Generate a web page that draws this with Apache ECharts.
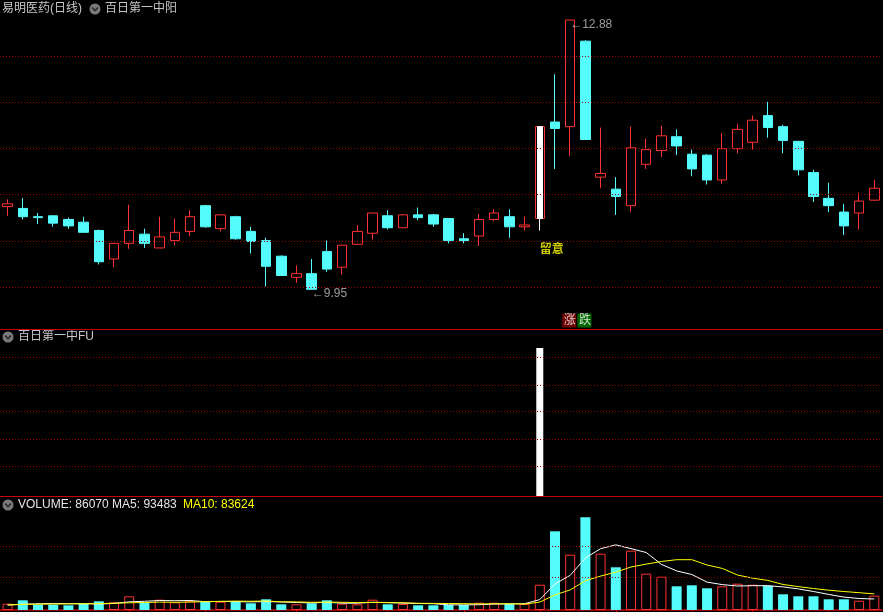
<!DOCTYPE html>
<html><head><meta charset="utf-8">
<script src="https://cdn.jsdelivr.net/npm/echarts@6/dist/echarts.min.js"></script>
<style>html,body{margin:0;padding:0;background:#000;}#c{width:883px;height:612px;}</style>
</head><body><div id="c"></div>
<script>
// ---- data ----
const categories = ['1','2','3','4','5','6','7','8','9','10','11','12','13','14','15','16','17','18','19','20',
 '21','22','23','24','25','26','27','28','29','30','31','32','33','34','35','36','37','38','39','40',
 '41','42','43','44','45','46','47','48','49','50','51','52','53','54','55','56','57','58'];
const opens  = [10.85,10.83,10.74,10.75,10.71,10.68,10.59,10.28,10.45,10.55,10.40,10.48,10.58,10.86,10.61,10.74,10.58,10.48,10.31,10.08,
 10.12,10.36,10.19,10.44,10.56,10.75,10.62,10.76,10.76,10.72,10.50,10.53,10.71,10.74,10.63,10.72,11.77,11.72,12.65,11.17,
 11.04,10.86,11.31,11.46,11.61,11.42,11.41,11.14,11.48,11.55,11.84,11.72,11.56,11.22,10.94,10.79,10.78,10.92];
const closes = [10.88,10.74,10.73,10.67,10.64,10.57,10.25,10.45,10.59,10.45,10.52,10.57,10.74,10.63,10.76,10.50,10.47,10.20,10.10,10.12,
 9.95,10.17,10.43,10.58,10.78,10.62,10.76,10.73,10.66,10.48,10.48,10.71,10.78,10.63,10.65,11.72,11.70,12.88,11.58,11.21,
 10.96,11.49,11.47,11.62,11.51,11.26,11.14,11.48,11.69,11.79,11.71,11.57,11.25,10.96,10.86,10.64,10.91,11.05];
const lows   = [10.75,10.71,10.66,10.63,10.61,10.57,10.22,10.19,10.39,10.40,10.40,10.43,10.53,10.62,10.58,10.49,10.34,9.98,10.10,10.02,
 9.95,10.14,10.11,10.44,10.49,10.60,10.62,10.70,10.63,10.45,10.45,10.42,10.69,10.51,10.59,10.59,11.26,11.40,11.58,11.05,
 10.76,10.79,11.26,11.39,11.41,11.18,11.09,11.10,11.43,11.47,11.60,11.43,11.19,10.90,10.79,10.54,10.60,10.91];
const highs  = [10.93,10.94,10.78,10.75,10.73,10.74,10.60,10.45,10.87,10.61,10.74,10.72,10.81,10.87,10.76,10.75,10.63,10.51,10.32,10.21,
 10.28,10.48,10.43,10.65,10.78,10.81,10.77,10.84,10.77,10.72,10.56,10.77,10.82,10.82,10.74,11.72,12.29,12.88,12.66,11.71,
 11.17,11.72,11.59,11.73,11.69,11.47,11.42,11.65,11.75,11.84,11.99,11.74,11.56,11.25,11.11,10.88,11.00,11.14];
const volumes = [37800,58200,31800,31800,28200,37800,52200,46200,82200,42000,61800,46200,52200,48000,49800,52200,40200,64200,34200,34200,
 40200,58200,37800,34200,61800,34200,36000,28200,28200,30000,30000,43800,43800,36000,36000,151800,472200,331800,556200,337800,
 256200,355800,217800,199800,142200,148200,130200,142200,157800,151800,145800,94200,82200,82200,64200,64200,55800,86070];
const ma5 = [30000,34800,37200,38400,37800,37800,36600,39000,49200,52200,57000,55800,57000,49800,51600,49800,48600,51000,48000,45000,
 42600,46200,40800,40800,46200,45000,40800,39000,37800,31200,30600,31800,35400,36600,37800,62400,156000,208000,312000,368000,
 391000,368000,345000,273600,234600,213000,167400,152400,144000,145800,145800,138600,126600,111000,93600,77400,69000,66000];
const ma10 = [30000,33600,34800,36000,36600,37200,37800,40800,43200,45000,47400,46200,48000,49800,51600,53400,52200,54000,49200,48600,
 46200,47400,46200,44400,45600,43800,43800,40200,39600,39000,37800,36600,37200,37200,35400,47400,90600,120600,175800,203400,
 226800,258000,275400,291000,301800,301800,270000,249600,210000,190800,177600,153000,140400,129000,118800,111000,103800,96600];
const signalDays = [35];              // 百日第一中阳 / 百日第一中FU signal
const limitMarks = [[37, '涨'], [38, '跌']];
const extremeMarks = [[37, 12.88], [20, 9.95]];
const noteMarks = [[35, '留意']];
const priceGridValues = [9.9697, 10.4702, 10.9816, 11.4822, 11.9827, 12.4941];
const fuGridValues = [0.1993, 0.3816, 0.5708, 0.7531, 0.9355];
const volGridValues = [195000, 381000];
const headerVol = 'VOLUME: 86070 MA5: 93483';
const headerMa10 = 'MA10: 83624';

// ---- styling ----
const UP = '#FF3232', DOWN = '#54FCFC', SEP = '#C40000', DOT = '#9A0000';
const FONT = 'Liberation Sans, "Noto Sans CJK SC", sans-serif';
const PRICE_MIN = 9.518, PRICE_MAX = 13.098;
const GX = {left: -1.3, width: 883.2};

const isUp = categories.map((c, i) => closes[i] >= opens[i]);
const candleData = categories.map((c, i) => [opens[i], closes[i], lows[i], highs[i]]);
const overlayData = categories.map((c, i) => signalDays.includes(i)
  ? [opens[i], closes[i], lows[i], highs[i]] : ['-', '-', '-', '-']);
const fuData = categories.map((c, i) => signalDays.includes(i) ? 1 : '-');
const volData = volumes.map((v, i) => ({
  value: v,
  itemStyle: isUp[i] ? {color: '#000', borderColor: UP, borderWidth: 1}
                     : {color: DOWN, borderColor: DOWN, borderWidth: 0}
}));

function gridMark(vals) {
  return {
    silent: true, symbol: ['none', 'none'], label: {show: false},
    lineStyle: {color: DOT, type: [1, 2], width: 1}, emphasis: {disabled: true},
    data: vals.map(v => ({yAxis: v}))
  };
}
function xAx(g, ticks) {
  return {
    type: 'category', gridIndex: g, data: categories, boundaryGap: true,
    axisLine: {show: true, onZero: false, lineStyle: {color: SEP, width: g === 2 ? 1.5 : 1}},
    axisTick: ticks ? {show: true, alignWithLabel: true, length: 2, lineStyle: {color: SEP},
      interval: (idx) => [8, 13, 19, 25, 30, 35, 40, 45, 49, 54].includes(idx)} : {show: false},
    axisLabel: {show: false}, splitLine: {show: false}
  };
}
function icon(x, y) {
  return {type: 'group', x: x, y: y, children: [
    {type: 'circle', shape: {r: 5.5}, style: {fill: '#7A7A7A'}},
    {type: 'polyline', shape: {points: [[-3, -1.5], [0, 1.5], [3, -1.5]]}, style: {stroke: '#2A2A2A', lineWidth: 1.6, fill: null}}
  ]};
}
function txt(x, y, s, color) {
  return {type: 'text', x: x, y: y, style: {text: s, fill: color, font: '12px ' + FONT, verticalAlign: 'middle'}};
}

const chart = echarts.init(document.getElementById('c'), null, {renderer: 'canvas'});
const labelBase = {fontFamily: FONT, fontSize: 12};

chart.setOption({
  backgroundColor: '#000000',
  animation: false,
  grid: [
    Object.assign({top: 0, height: 329}, GX),
    Object.assign({top: 329, height: 167}, GX),
    Object.assign({top: 496, height: 114}, GX)
  ],
  xAxis: [xAx(0, false), xAx(1, false), xAx(2, true)],
  yAxis: [
    {type: 'value', gridIndex: 0, min: PRICE_MIN, max: PRICE_MAX, show: false, splitLine: {show: false}},
    {type: 'value', gridIndex: 1, min: 0, max: 1.128, show: false, splitLine: {show: false}},
    {type: 'value', gridIndex: 2, min: 0, max: 684000, show: false, splitLine: {show: false}}
  ],
  graphic: [
    txt(2, 9, '易明医药(日线)', '#C8C8C8'),
    icon(95, 9),
    txt(105, 9, '百日第一中阳', '#C8C8C8'),
    icon(8, 337),
    txt(18, 337, '百日第一中FU', '#C8C8C8'),
    icon(8, 505),
    txt(18, 505, headerVol, '#E6E6E6'),
    txt(183, 505, headerMa10, '#FFFF00')
  ],
  series: [
    {
      name: 'K', type: 'candlestick', xAxisIndex: 0, yAxisIndex: 0, data: candleData,
      barWidth: 10, silent: true, clip: false,
      itemStyle: {color: '#000000', color0: DOWN, borderColor: UP, borderColor0: DOWN, borderWidth: 1},
      markLine: gridMark(priceGridValues)
    },
    {
      name: '百日第一中阳', type: 'candlestick', xAxisIndex: 0, yAxisIndex: 0, data: overlayData,
      barWidth: 6, silent: true, clip: false,
      itemStyle: {color: '#FFFFFF', color0: '#FFFFFF', borderColor: '#FFFFFF', borderColor0: '#FFFFFF', borderWidth: 1}
    },
    {
      name: 'marks', type: 'scatter', xAxisIndex: 0, yAxisIndex: 0, symbolSize: 0, silent: true, z: 5,
      data: [].concat(
        extremeMarks.map(m => ({value: m, label: Object.assign({show: true, formatter: '←' + m[1].toFixed(2), color: '#C0C0C0',
          position: 'inside', align: 'left', verticalAlign: 'middle', offset: [0, m[1] > 12 ? 4.5 : 4]}, labelBase)})),
        noteMarks.map(m => ({value: [m[0], lows[m[0]]], label: Object.assign({show: true, formatter: m[1], color: '#FFFF00', fontWeight: 'bold',
          position: 'inside', align: 'left', verticalAlign: 'middle', offset: [0, 19]}, labelBase)})),
        limitMarks.map(m => ({value: [m[0], PRICE_MIN], label: Object.assign({show: true, formatter: m[1], color: '#FFFFFF',
          backgroundColor: m[1] === '涨' ? '#8B0000' : '#008000', padding: [1, 0, 0, 1], width: 13, height: 13, lineHeight: 13,
          position: 'inside', align: 'center', verticalAlign: 'middle', offset: [-1, -8.5]}, labelBase)}))
      )
    },
    {
      name: '百日第一中FU', type: 'bar', xAxisIndex: 1, yAxisIndex: 1, data: fuData, barWidth: 7, silent: true,
      itemStyle: {color: '#FFFFFF'}, markLine: gridMark(fuGridValues)
    },
    {
      name: 'VOLUME', type: 'bar', xAxisIndex: 2, yAxisIndex: 2, data: volData, barWidth: 10, silent: true,
      markLine: gridMark(volGridValues)
    },
    {
      name: 'MA5', type: 'line', xAxisIndex: 2, yAxisIndex: 2, data: ma5, showSymbol: false, silent: true, z: 4,
      lineStyle: {color: '#FFFFFF', width: 1}
    },
    {
      name: 'MA10', type: 'line', xAxisIndex: 2, yAxisIndex: 2, data: ma10, showSymbol: false, silent: true, z: 4,
      lineStyle: {color: '#FFFF00', width: 1}
    }
  ]
});
</script></body></html>
